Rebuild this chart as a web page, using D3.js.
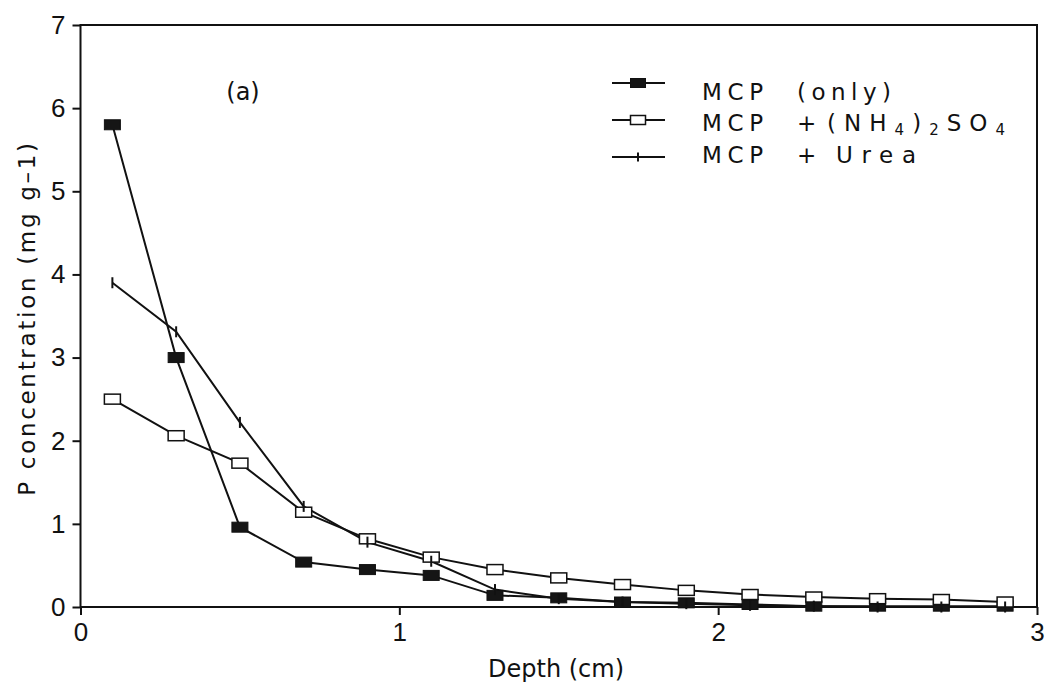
<!DOCTYPE html>
<html>
<head>
<meta charset="utf-8">
<script src="https://cdn.jsdelivr.net/npm/d3@7"></script>
<style>
  html, body { margin: 0; padding: 0; background: #fff; }
  svg { display: block; }
  text { font-family: "DejaVu Sans", "Liberation Sans", Arial, sans-serif; fill: #111; }
</style>
</head>
<body>
<svg id="chart" width="1045" height="686"></svg>
<script>
// Depth of each sampled soil slice (cm)
const depth = [0.1, 0.3, 0.5, 0.7, 0.9, 1.1, 1.3, 1.5, 1.7, 1.9, 2.1, 2.3, 2.5, 2.7, 2.9];

// P concentration (mg g-1) for each treatment
const mcpOnly = [5.8, 3.0, 0.96, 0.54, 0.45, 0.38, 0.14, 0.11, 0.06, 0.05, 0.03, 0.01, 0.01, 0.01, 0.01];
const mcpAmmSulfate = [2.5, 2.06, 1.73, 1.14, 0.82, 0.6, 0.45, 0.35, 0.27, 0.2, 0.15, 0.12, 0.1, 0.09, 0.06];
const mcpUrea = [3.9, 3.31, 2.22, 1.21, 0.78, 0.55, 0.21, 0.1, 0.06, 0.04, 0.02, 0.01, 0.0, 0.0, 0.0];

const xTicks = [0, 1, 2, 3];
const yTicks = [0, 1, 2, 3, 4, 5, 6, 7];

const svg = d3.select("#chart");
const plotLeft = 80.5, plotRight = 1037, plotTop = 25, plotBottom = 607;

const x = d3.scaleLinear().domain([0, 3]).range([plotLeft, plotRight]);
const y = d3.scaleLinear().domain([0, 7]).range([plotBottom, plotTop]);

// Frame
svg.append("rect")
  .attr("x", plotLeft).attr("y", plotTop)
  .attr("width", plotRight - plotLeft).attr("height", plotBottom - plotTop)
  .attr("fill", "none").attr("stroke", "#111").attr("stroke-width", 2);

// Axes
const gx = svg.append("g")
  .attr("transform", `translate(0,${plotBottom})`)
  .call(d3.axisBottom(x).tickValues(xTicks).tickFormat(d3.format("d")).tickSize(8).tickPadding(8));
const gy = svg.append("g")
  .attr("transform", `translate(${plotLeft},0)`)
  .call(d3.axisLeft(y).tickValues(yTicks).tickFormat(d3.format("d")).tickSize(8).tickPadding(7));
[gx, gy].forEach(g => {
  g.select(".domain").remove();
  g.selectAll(".tick line").attr("stroke", "#111").attr("stroke-width", 2);
  g.selectAll(".tick text")
    .attr("fill", "#111")
    .style("font-family", '"Liberation Sans", Arial, sans-serif')
    .style("font-size", "26px");
});

// Axis titles
svg.append("text")
  .attr("x", 556).attr("y", 677)
  .attr("text-anchor", "middle")
  .style("font-size", "24px")
  .text("Depth (cm)");
svg.append("text")
  .attr("transform", "translate(35,318) rotate(-90)")
  .attr("text-anchor", "middle")
  .style("font-size", "23px").style("letter-spacing", "2.7px")
  .text("P concentration (mg g–1)");

// Panel label
svg.append("text")
  .attr("x", 243).attr("y", 100)
  .attr("text-anchor", "middle")
  .style("font-size", "24px")
  .text("(a)");

const series = [
  { name: "only", values: mcpOnly, marker: "filled" },
  { name: "amm", values: mcpAmmSulfate, marker: "open" },
  { name: "urea", values: mcpUrea, marker: "tick" }
];

const line = d3.line().x(d => x(d[0])).y(d => y(d[1]));

function drawMarker(g, cx, cy, kind, w, h) {
  if (kind === "filled") {
    g.append("rect").attr("x", cx - w / 2).attr("y", cy - h / 2)
      .attr("width", w).attr("height", h)
      .attr("fill", "#151515").attr("stroke", "#111").attr("stroke-width", 1);
  } else if (kind === "open") {
    g.append("rect").attr("x", cx - w / 2).attr("y", cy - h / 2)
      .attr("width", w).attr("height", h)
      .attr("fill", "#fff").attr("stroke", "#111").attr("stroke-width", 1.5);
  } else {
    g.append("line").attr("x1", cx).attr("x2", cx)
      .attr("y1", cy - h / 2).attr("y2", cy + h / 2)
      .attr("stroke", "#111").attr("stroke-width", 2);
  }
}

// Lines first, then markers on top
series.forEach(s => {
  const pts = depth.map((d, i) => [d, s.values[i]]);
  svg.append("path").datum(pts)
    .attr("d", line)
    .attr("fill", "none").attr("stroke", "#111").attr("stroke-width", 2);
});
series.forEach(s => {
  const g = svg.append("g");
  depth.forEach((d, i) => {
    drawMarker(g, x(d), y(s.values[i]), s.marker, 16, s.marker === "tick" ? 11 : 10);
  });
});

// Legend: each word is placed and stretched to the plotter-style spacing
const legendRows = [
  { marker: "filled", ly: 83, ty: 100, parts: [["MCP", 702, 61], ["(only)", 797, 94]] },
  { marker: "open", ly: 120, ty: 131, parts: [["MCP", 702, 61], ["+", 797, 0], ["NH4", 827, 178]] },
  { marker: "tick", ly: 157, ty: 163, parts: [["MCP", 702, 61], ["+", 797, 0], ["Urea", 836, 80]] }
];
legendRows.forEach(r => {
  const g = svg.append("g");
  g.append("line").attr("x1", 612).attr("x2", 665)
    .attr("y1", r.ly).attr("y2", r.ly)
    .attr("stroke", "#111").attr("stroke-width", 2);
  drawMarker(g, 638, r.ly, r.marker, 15, 9);
  r.parts.forEach(([label, px, len]) => {
    const t = g.append("text").attr("x", px).attr("y", r.ty)
      .style("font-size", "23px");
    if (len > 0) t.attr("textLength", len).attr("lengthAdjust", "spacing");
    if (label === "NH4") {
      t.append("tspan").text("(NH");
      t.append("tspan").attr("dy", 4).style("font-size", "15px").text("4");
      t.append("tspan").attr("dy", -4).text(")");
      t.append("tspan").attr("dy", 4).style("font-size", "15px").text("2");
      t.append("tspan").attr("dy", -4).text("SO");
      t.append("tspan").attr("dy", 4).style("font-size", "15px").text("4");
    } else {
      t.text(label);
    }
  });
});
</script>
</body>
</html>
